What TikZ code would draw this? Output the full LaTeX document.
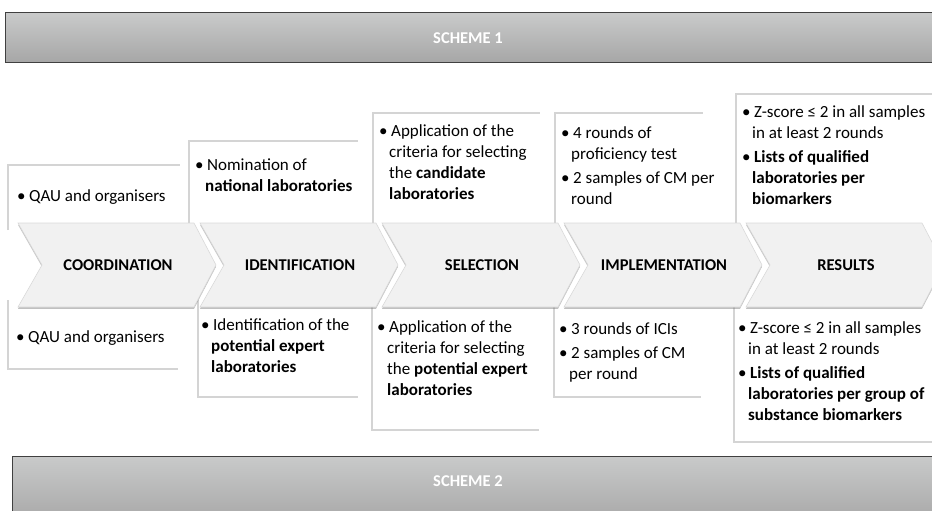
\documentclass[tikz,border=0pt]{standalone}
\usepackage{fontspec}
\setmainfont{Carlito}
\usepackage{tikz}
\usetikzlibrary{positioning}
\usetikzlibrary{shadows}

\definecolor{boxline}{HTML}{D4D4D4}
\definecolor{chevfill}{HTML}{F1F1F1}
\definecolor{bannertop}{HTML}{C9CACA}
\definecolor{bannerbot}{HTML}{A6A6A6}

\newcommand{\bl}{\makebox[12pt][l]{\textbullet}}
\newcommand{\hg}{\hspace*{10pt}}

\tikzset{
  chev/.style={fill=chevfill, draw=black!15, line width=0.6pt,
    drop shadow={shadow xshift=0pt, shadow yshift=-1.8pt, opacity=0.45, fill=black!55}},
  txt/.style={anchor=north west, inner sep=0pt, align=left, font=\fontsize{17}{21}\selectfont},
  lbl/.style={inner sep=0pt, font=\fontsize{16.5}{21}\selectfont\bfseries},
  banner/.style={top color=bannertop, bottom color=bannerbot, draw=black!75, line width=1pt},
  head/.style={inner sep=0pt, text=white, font=\fontsize{16.5}{21}\selectfont\bfseries},
  edge/.style={draw=boxline, line width=1.6pt}
}

\begin{document}
\begin{tikzpicture}[x=1pt, y=-1pt]
    \useasboundingbox (0,0) rectangle (932,511);
    \clip (0,0) rectangle (932,511);

    \draw[banner] (5,13) rectangle (945,63);      %scheme 1 bar
    \node[head] (scheme1) at (468,38) {SCHEME 1};

    \draw[edge] (8,230) |- (180,165);             %upper boxes
    \draw[edge] (189,230) |- (358,141);
    \draw[edge] (373,230) |- (540,113);
    \draw[edge] (555,230) |- (703,113);
    \draw[edge] (736,230) |- (945,94);

    \draw[edge] (8,300) |- (178,369);             %lower boxes
    \draw[edge] (198,300) |- (358,397);
    \draw[edge] (372,300) |- (539,430);
    \draw[edge] (554,300) |- (701,397);
    \draw[edge] (734,300) |- (945,442);

    \draw[chev] (18,223) -- (194,223) -- (216,265) -- (194,307) -- (18,307) -- (42,265) -- cycle;     %coordination
    \draw[chev] (200,223) -- (376,223) -- (398,265) -- (376,307) -- (200,307) -- (224,265) -- cycle;  %identification
    \draw[chev] (382,223) -- (558,223) -- (580,265) -- (558,307) -- (382,307) -- (406,265) -- cycle;  %selection
    \draw[chev] (564,223) -- (740,223) -- (762,265) -- (740,307) -- (564,307) -- (588,265) -- cycle;  %implementation
    \draw[chev] (746,223) -- (922,223) -- (944,265) -- (922,307) -- (746,307) -- (770,265) -- cycle;  %results

    \node[lbl] (coord) at (118,265) {COORDINATION};
    \node[lbl] (ident) at (300,265) {IDENTIFICATION};
    \node[lbl] (select) at (482,265) {SELECTION};
    \node[lbl] (implem) at (664,265) {IMPLEMENTATION};
    \node[lbl] (result) at (846,265) {RESULTS};

    \node[txt] (topA) at (17,189) {\bl QAU and organisers};
    \node[txt] (topB) at (195,159) {\bl Nomination of\\ \hg\textbf{national laboratories}};
    \node[txt] (topC) at (379,124) {\bl Application of the\\ \hg criteria for selecting\\ \hg the \textbf{candidate}\\ \hg\textbf{laboratories}};
    \node[txt] (topD) at (561,126) {\bl 4 rounds of\\ \hg proficiency test\\[3pt] \bl 2 samples of CM per\\ \hg round};
    \node[txt] (topE) at (742,105) {\bl Z-score ≤ 2 in all samples\\ \hg in at least 2 rounds\\[3pt] \bl\textbf{Lists of qualified}\\ \hg\textbf{laboratories per}\\ \hg\textbf{biomarkers}};

    \node[txt] (botA) at (16,330) {\bl QAU and organisers};
    \node[txt] (botB) at (201,318) {\bl Identification of the\\ \hg\textbf{potential expert}\\ \hg\textbf{laboratories}};
    \node[txt] (botC) at (377,320) {\bl Application of the\\ \hg criteria for selecting\\ \hg the \textbf{potential expert}\\ \hg\textbf{laboratories}};
    \node[txt] (botD) at (559,322) {\bl 3 rounds of ICIs\\[3pt] \bl 2 samples of CM\\ \hg per round};
    \node[txt] (botE) at (738,321) {\bl Z-score ≤ 2 in all samples\\ \hg in at least 2 rounds\\[3pt] \bl\textbf{Lists of qualified}\\ \hg\textbf{laboratories per group of}\\ \hg\textbf{substance biomarkers}};

    \draw[banner] (12,456) rectangle (945,525);   %scheme 2 bar
    \node[head] (scheme2) at (468,481) {SCHEME 2};
\end{tikzpicture}
\end{document}
